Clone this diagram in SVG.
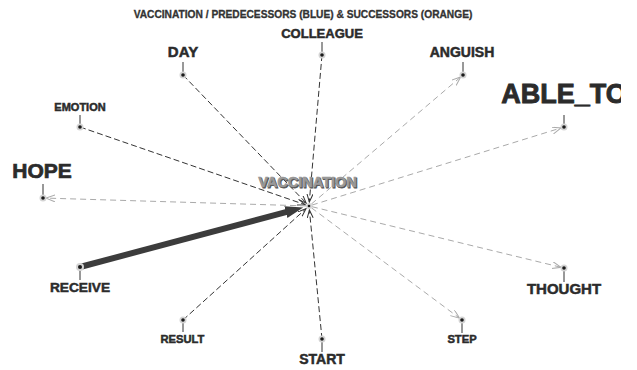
<svg xmlns="http://www.w3.org/2000/svg" width="637" height="370" viewBox="0 0 637 370">
<style>
.lbl{font-family:"Liberation Sans",Arial,sans-serif;font-weight:bold;fill:#2b2b2b;stroke:#2b2b2b;stroke-width:0.5;text-anchor:middle}
.tick{stroke:#333;stroke-width:1}
.halo{fill:#d4d4d4}
.dot{fill:#1a1a1a}
.pred{stroke:#333;stroke-width:1;stroke-dasharray:6,3;fill:none}
.succ{stroke:#aaa;stroke-width:1;stroke-dasharray:6,4;fill:none}
</style>
<defs>
<marker id="mp" markerUnits="userSpaceOnUse" markerWidth="10" markerHeight="8" refX="8" refY="3" orient="auto">
<path d="M0,0 L8,3 L0,6" fill="none" stroke="#333" stroke-width="1"/>
</marker>
<marker id="ms" markerUnits="userSpaceOnUse" markerWidth="12" markerHeight="10" refX="9" refY="3.5" orient="auto">
<path d="M0,0 L9,3.5 L0,7" fill="none" stroke="#aaa" stroke-width="1"/>
</marker>
<marker id="mt" markerUnits="userSpaceOnUse" markerWidth="20" markerHeight="14" refX="1" refY="6" orient="auto">
<path d="M0,0 L18,6 L0,12 z" fill="#3c3c3c"/>
</marker>
<clipPath id="cl"><rect x="0" y="0" width="621" height="370"/></clipPath>
</defs>
<text class="lbl" x="303" y="18" style="font-size:10.2px;fill:#333;stroke:#333;stroke-width:0.3">VACCINATION / PREDECESSORS (BLUE) &amp; SUCCESSORS (ORANGE)</text>
<g id="connectors">
<line class="pred" x1="183" y1="75" x2="306.2" y2="203.1" marker-end="url(#mp)"/>
<line class="pred" x1="80" y1="127" x2="305.2" y2="204.7" marker-end="url(#mp)"/>
<line class="pred" x1="322" y1="55" x2="309.3" y2="202" marker-end="url(#mp)"/>
<line class="pred" x1="183" y1="320" x2="306" y2="208.7" marker-end="url(#mp)"/>
<line class="pred" x1="322" y1="339" x2="309.4" y2="210" marker-end="url(#mp)"/>
<line x1="80" y1="267" x2="286.8" y2="211.9" stroke="#3c3c3c" stroke-width="6" marker-end="url(#mt)"/>
<line class="succ" x1="306" y1="205.9" x2="46" y2="198.1" marker-end="url(#ms)"/>
<line class="succ" x1="311.3" y1="204.1" x2="460.7" y2="77" marker-end="url(#ms)"/>
<line class="succ" x1="311.9" y1="205.1" x2="561.1" y2="127.9" marker-end="url(#ms)"/>
<line class="succ" x1="311.9" y1="206.7" x2="561.1" y2="267.3" marker-end="url(#ms)"/>
<line class="succ" x1="311.4" y1="207.8" x2="459.6" y2="318.2" marker-end="url(#ms)"/>
</g>
<g id="vaccination">
<circle class="halo" cx="309" cy="206" r="3"/>
<circle class="dot" cx="309" cy="206" r="1.3"/>
<text class="lbl" x="308.5" y="188" style="font-size:14.5px;fill:#555;stroke:#555;stroke-width:0.8">VACCINATION</text>
<text class="lbl" x="307.5" y="187" style="font-size:14.5px;fill:#999;stroke:#999;stroke-width:0.5">VACCINATION</text>
</g>
<g id="day">
<line class="tick" x1="183" y1="62" x2="183" y2="75"/>
<circle class="halo" cx="183" cy="75" r="3.5"/><circle class="dot" cx="183" cy="75" r="1.8"/>
<text class="lbl" x="183" y="57" style="font-size:15px">DAY</text>
</g>
<g id="colleague">
<line class="tick" x1="322" y1="42" x2="322" y2="55"/>
<circle class="halo" cx="322" cy="55" r="3.5"/><circle class="dot" cx="322" cy="55" r="1.8"/>
<text class="lbl" x="322" y="38" style="font-size:13px">COLLEAGUE</text>
</g>
<g id="emotion">
<line class="tick" x1="80" y1="115" x2="80" y2="127"/>
<circle class="halo" cx="80" cy="127" r="3.5"/><circle class="dot" cx="80" cy="127" r="1.8"/>
<text class="lbl" x="80" y="111" style="font-size:11px">EMOTION</text>
</g>
<g id="hope">
<line class="tick" x1="43" y1="184" x2="43" y2="198"/>
<circle class="halo" cx="43" cy="198" r="3.5"/><circle class="dot" cx="43" cy="198" r="1.8"/>
<text class="lbl" x="42" y="178" style="font-size:21px;stroke-width:0.7">HOPE</text>
</g>
<g id="anguish">
<line class="tick" x1="463" y1="62" x2="463" y2="75"/>
<circle class="halo" cx="463" cy="75" r="3.5"/><circle class="dot" cx="463" cy="75" r="1.8"/>
<text class="lbl" x="462" y="57" style="font-size:14px">ANGUISH</text>
</g>
<g id="able_to">
<line class="tick" x1="564" y1="115" x2="564" y2="127"/>
<circle class="halo" cx="564" cy="127" r="3.5"/><circle class="dot" cx="564" cy="127" r="1.8"/>
<text class="lbl" x="564" y="103" clip-path="url(#cl)" style="font-size:27px;stroke-width:0.9">ABLE_TO</text>
</g>
<g id="receive">
<line class="tick" x1="80" y1="267" x2="80" y2="280"/>
<circle class="halo" cx="80" cy="267" r="4"/><circle class="dot" cx="80" cy="267" r="2"/>
<text class="lbl" x="80" y="292" style="font-size:13.7px">RECEIVE</text>
</g>
<g id="result">
<line class="tick" x1="183" y1="320" x2="183" y2="332"/>
<circle class="halo" cx="183" cy="320" r="3.5"/><circle class="dot" cx="183" cy="320" r="1.8"/>
<text class="lbl" x="182.5" y="343" style="font-size:11.2px">RESULT</text>
</g>
<g id="start">
<line class="tick" x1="322" y1="339" x2="322" y2="352"/>
<circle class="halo" cx="322" cy="339" r="3.5"/><circle class="dot" cx="322" cy="339" r="1.8"/>
<text class="lbl" x="322" y="364" style="font-size:14px">START</text>
</g>
<g id="step">
<line class="tick" x1="462" y1="320" x2="462" y2="333"/>
<circle class="halo" cx="462" cy="320" r="3.5"/><circle class="dot" cx="462" cy="320" r="1.8"/>
<text class="lbl" x="462" y="343" style="font-size:11.2px">STEP</text>
</g>
<g id="thought">
<line class="tick" x1="564" y1="268" x2="564" y2="282"/>
<circle class="halo" cx="564" cy="268" r="3.5"/><circle class="dot" cx="564" cy="268" r="1.8"/>
<text class="lbl" x="564" y="294" style="font-size:15px">THOUGHT</text>
</g>
</svg>
